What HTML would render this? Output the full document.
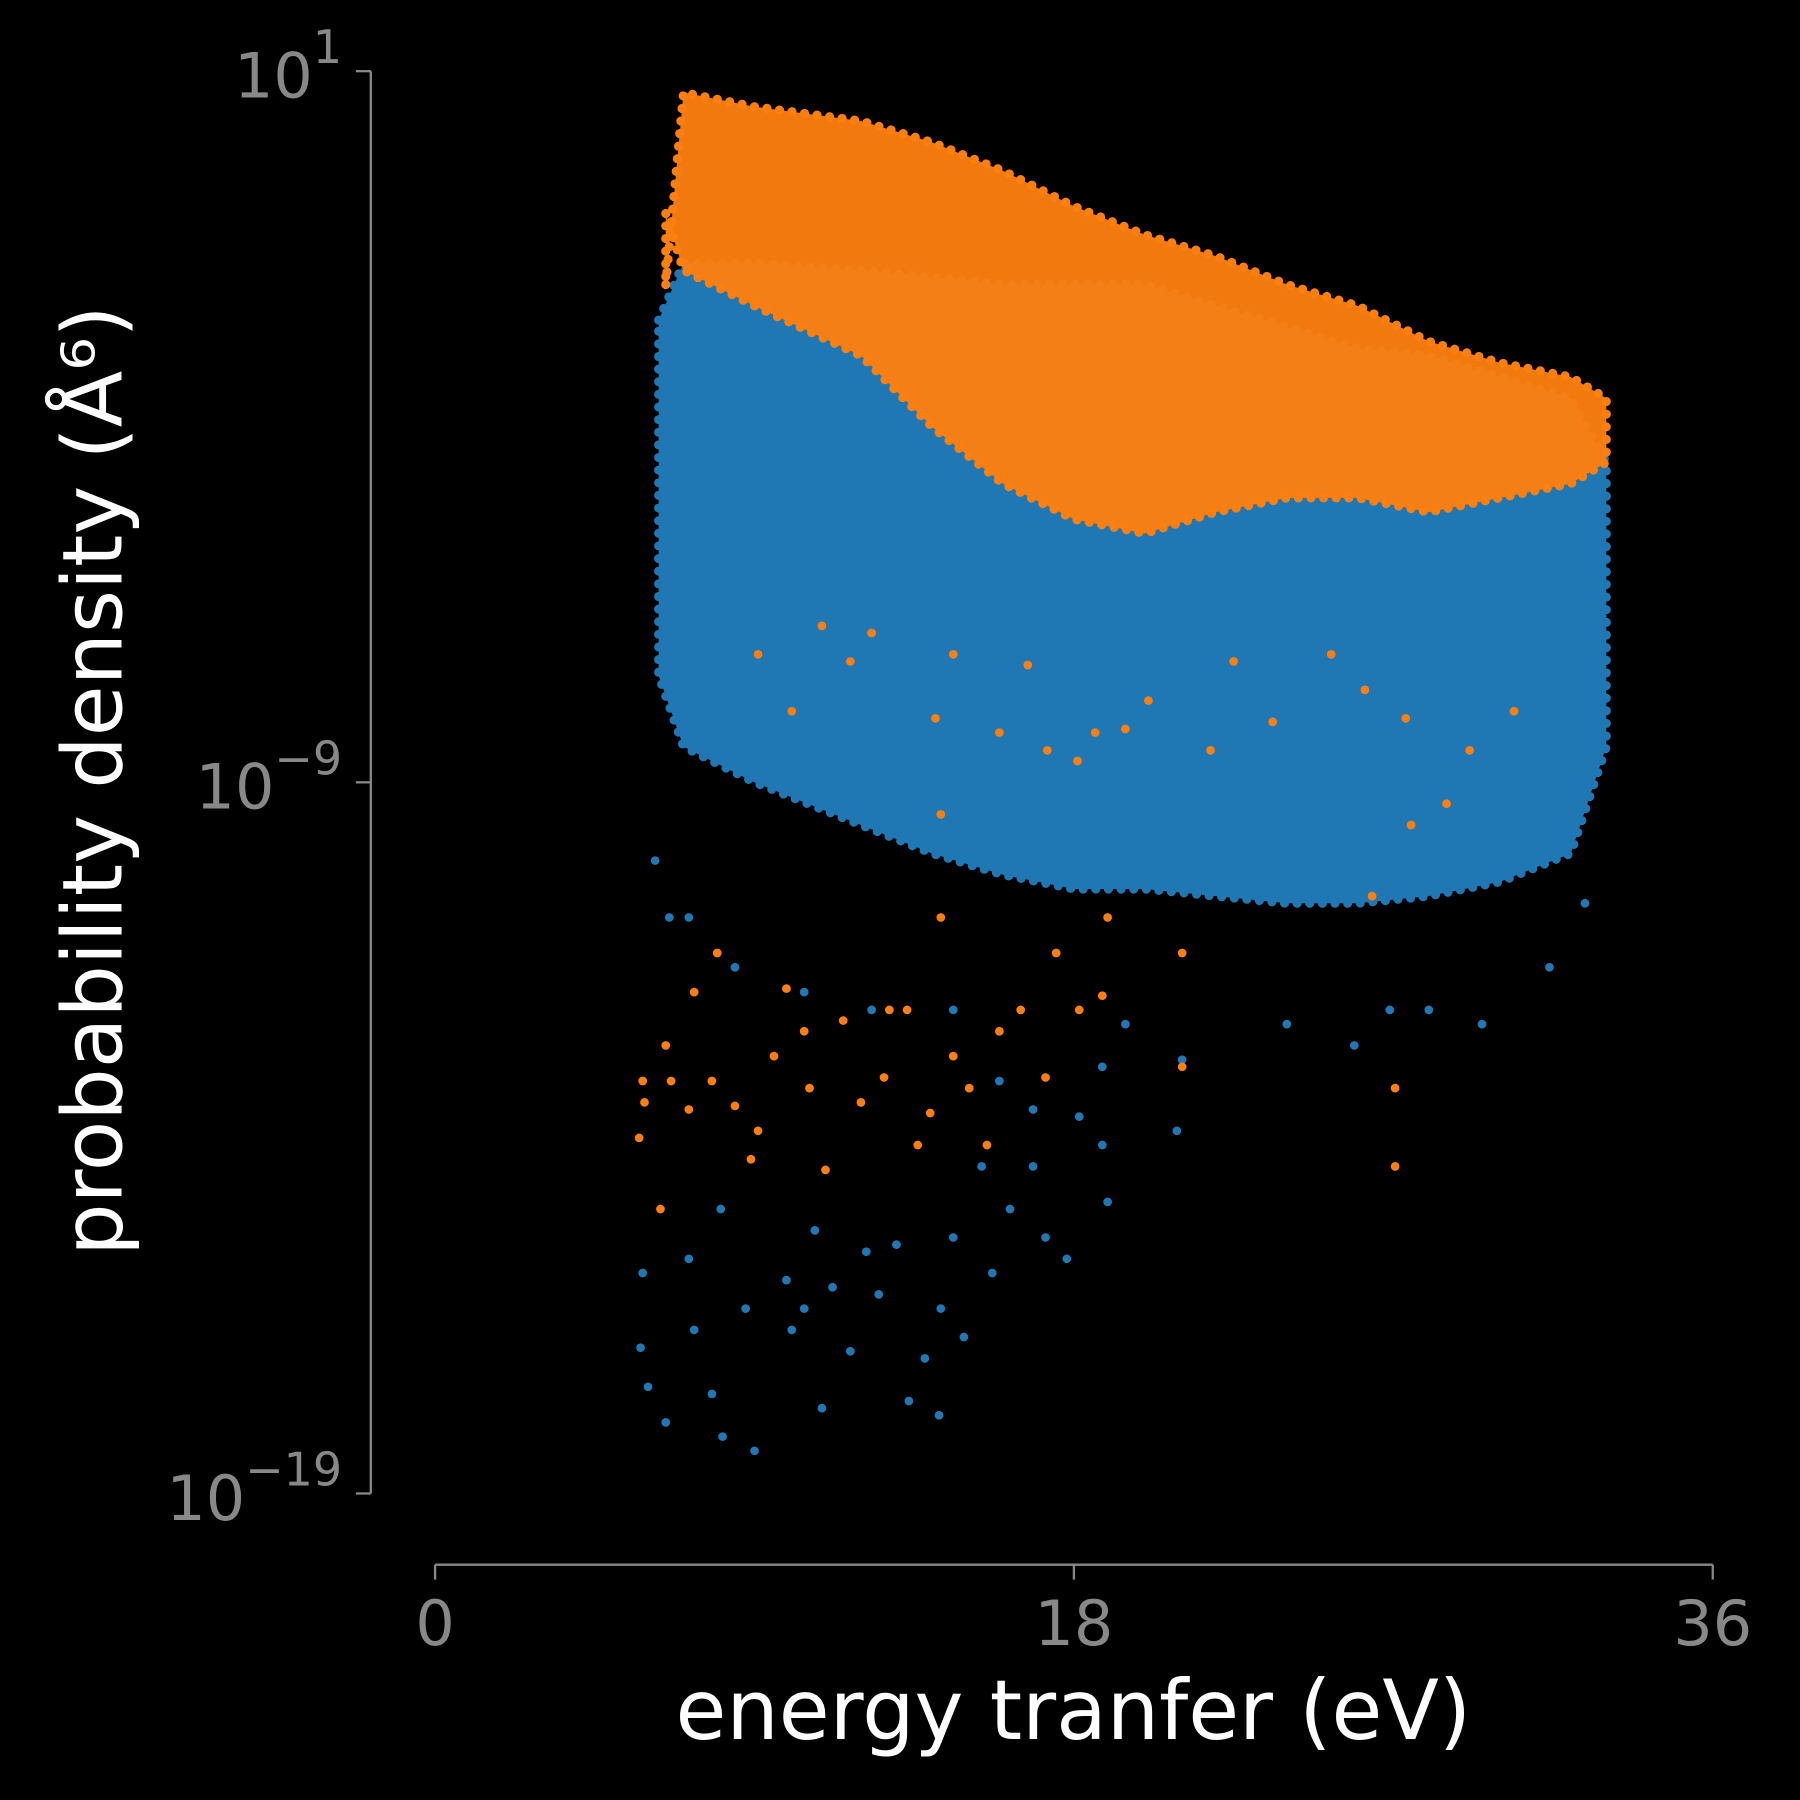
<!DOCTYPE html>
<html><head><meta charset="utf-8"><style>
html,body{margin:0;padding:0;background:#000;}
svg{display:block;font-family:"DejaVu Sans","Liberation Sans",sans-serif;}
</style></head><body>
<svg id="chart" width="1800" height="1800" viewBox="0 0 1568 1568" xmlns="http://www.w3.org/2000/svg">
<rect width="1568" height="1568" fill="#000"/>
<g id="plot"></g>
<g id="axes"></g>
</svg>
<script>
// ---- data (log10 values of probability density, x in eV) ----
const xTicks = [0, 18, 36];
const yTicks = [1, -9, -19];
const bandX = [6.3, 7, 9, 12, 14, 16, 18, 20, 22, 24, 26, 28, 30, 32, 33];
const blueTop = [-2.5, -1.7, -1.7, -1.8, -1.9, -2.0, -2.0, -2.0, -2.3, -2.6, -2.9, -3.0, -3.3, -3.6, -4.5];
const blueBottom = [-7.5, -8.5, -9.0, -9.6, -10.0, -10.3, -10.5, -10.5, -10.6, -10.7, -10.7, -10.6, -10.4, -10.0, -8.5];
const orangeX = [6.5, 7, 9, 12, 14, 16, 18, 20, 22, 24, 26, 28, 30, 32, 33];
const orangeTop = [-2.0, 0.7, 0.5, 0.3, 0.0, -0.4, -0.9, -1.3, -1.6, -2.0, -2.3, -2.8, -3.1, -3.3, -3.6];
const orangeBottom = [-1.0, -1.8, -2.3, -3.0, -4.0, -4.8, -5.3, -5.5, -5.2, -5.0, -5.0, -5.2, -5.0, -4.8, -4.5];
const blueOutX = [5.79,5.85,6.0,6.5,7.15,7.3,7.8,8.05,8.1,8.75,9.0,9.9,10.05,10.4,10.7,10.9,11.2,11.7,12.15,12.5,13.0,13.35,13.8,14.2,14.25,14.6,14.9,15.4,15.7,16.2,16.85,17.2,17.8,18.8,18.95,6.2,6.6,7.15,8.45,10.4,12.3,14.6,15.9,16.85,18.15,18.8,19.45,20.9,21.05,24.0,25.9,26.9,28.0,29.5,31.4,32.4];
const blueOutY = [-16.95,-15.9,-17.5,-18.0,-15.7,-16.7,-17.6,-15.0,-18.2,-16.4,-18.4,-16.0,-16.7,-16.4,-15.3,-17.8,-16.1,-17.0,-15.6,-16.2,-15.5,-17.7,-17.1,-17.9,-16.4,-15.4,-16.8,-14.4,-15.9,-15.0,-14.4,-15.4,-15.7,-14.1,-14.9,-10.1,-10.9,-10.9,-11.6,-11.95,-12.2,-12.2,-13.2,-13.6,-13.7,-13.0,-12.4,-13.9,-12.9,-12.4,-12.7,-12.2,-12.2,-12.4,-11.6,-10.7];
const orangeOutX = [5.75,5.85,5.9,6.35,6.5,6.65,7.15,7.3,7.8,7.95,8.45,8.9,9.1,9.55,9.9,10.4,10.55,11.0,11.5,12.0,12.65,12.8,13.3,13.6,13.95,14.25,14.6,15.05,15.55,15.9,16.5,17.2,17.5,18.15,18.8,18.95,21.05,21.05,26.4,27.05,27.05,
 10.9,11.7,12.3,14.1,14.6,15.9,16.7,17.25,18.1,18.6,19.45,20.1,21.85,22.5,23.6,25.25,26.2,27.35,28.5,29.15,30.4,10.05,9.1,27.5,14.25];
const orangeOutY = [-14.0,-13.2,-13.5,-15.0,-12.7,-13.2,-13.6,-11.95,-13.2,-11.4,-13.55,-14.3,-13.9,-12.85,-11.9,-12.5,-13.3,-14.45,-12.35,-13.5,-13.15,-12.2,-12.2,-14.1,-13.65,-10.9,-12.85,-13.3,-14.1,-12.5,-12.2,-13.15,-11.4,-12.2,-12.0,-10.9,-11.4,-13.0,-10.6,-13.3,-14.4,
 -6.8,-7.3,-6.9,-8.1,-7.2,-8.3,-7.35,-8.55,-8.7,-8.3,-8.25,-7.85,-8.55,-7.3,-8.15,-7.2,-7.7,-8.1,-9.3,-8.55,-8.0,-8.0,-7.2,-9.6,-9.45];

// ---- axis functions ----
const X0 = 379, X1 = 1492, XMIN = 0, XMAX = 36;
const Y0 = 62, Y1 = 1301, YMAX = 1, YMIN = -19;
function sx(v){ return X0 + (v - XMIN) / (XMAX - XMIN) * (X1 - X0); }
function sy(v){ return Y0 + (YMAX - v) / (YMAX - YMIN) * (Y1 - Y0); }

const NS = "http://www.w3.org/2000/svg";
const plot = document.getElementById('plot');
const axes = document.getElementById('axes');
function mk(tag, attrs, parent){
  const e = document.createElementNS(NS, tag);
  for (const k in attrs) e.setAttribute(k, attrs[k]);
  parent.appendChild(e);
  return e;
}
const BLUE = '#1f77b4', ORANGE = '#ff7f0e';

function band(xs, top, bot, color, name, op){
  let pts = [];
  for (let i = 0; i < xs.length; i++) pts.push(sx(xs[i]) + ',' + sy(top[i]));
  for (let i = xs.length - 1; i >= 0; i--) pts.push(sx(xs[i]) + ',' + sy(bot[i]));
  const p = mk('polygon', {points: pts.join(' '), fill: color, 'fill-opacity': op,
    stroke: color, 'stroke-width': 8, 'stroke-dasharray': '0 11', 'stroke-linecap': 'round', 'stroke-linejoin': 'round'}, plot);
  
  
}
band(bandX, blueTop, blueBottom, BLUE, 'blue-dense-band', 1);
band(orangeX, orangeTop, orangeBottom, ORANGE, 'orange-dense-band', 0.95);

function points(xs, ys, color, name){
  const g = mk('g', {fill: color}, plot);
  
  
  for (let i = 0; i < xs.length; i++){
    const c = mk('circle', {cx: sx(xs[i]), cy: sy(ys[i]), r: 3.8}, g);
    
    
  }
}
points(blueOutX, blueOutY, BLUE, 'blue-series');
points(orangeOutX, orangeOutY, ORANGE, 'orange-series');

// ---- axes ----
const GRAY = '#888';
let l = mk('line', {x1: 323, y1: Y0, x2: 323, y2: Y1, stroke: GRAY, 'stroke-width': 2}, axes);
 
l = mk('line', {x1: X0, y1: 1363, x2: X1, y2: 1363, stroke: GRAY, 'stroke-width': 2}, axes);
 

yTicks.forEach(v => {
  const y = sy(v);
  const t = mk('line', {x1: 310, y1: y, x2: 323, y2: y, stroke: GRAY, 'stroke-width': 2}, axes);
   
  const tx = mk('text', {x: 0, y: y + 23, fill: GRAY, 'font-size': 54, 'text-anchor': 'start'}, axes);
   
  const base = document.createElementNS(NS, 'tspan'); base.textContent = '10'; tx.appendChild(base);
  const sup = document.createElementNS(NS, 'tspan');
  sup.setAttribute('dy', -30); sup.setAttribute('font-size', 40);
  sup.textContent = v < 0 ? '\u2212' + Math.abs(v) : String(v);
  tx.appendChild(sup);
  const w = tx.getComputedTextLength ? tx.getComputedTextLength() : 0;
  tx.setAttribute('x', 298 - w);
});
xTicks.forEach(v => {
  const x = sx(v);
  const t = mk('line', {x1: x, y1: 1363, x2: x, y2: 1376, stroke: GRAY, 'stroke-width': 2}, axes);
   
  const tx = mk('text', {x: x, y: 1433, fill: GRAY, 'font-size': 54, 'text-anchor': 'middle'}, axes);
  tx.textContent = String(v);
   
});
let xl = mk('text', {x: 935, y: 1515, fill: '#fff', 'font-size': 72, 'text-anchor': 'middle'}, axes);
xl.textContent = 'energy tranfer (eV)';
 
let yl = mk('text', {x: 0, y: 0, fill: '#fff', 'font-size': 72, 'text-anchor': 'middle', transform: 'translate(106,680) rotate(-90)'}, axes);
yl.textContent = 'probability density (\u212B\u2076)';
 
</script>
</body></html>
